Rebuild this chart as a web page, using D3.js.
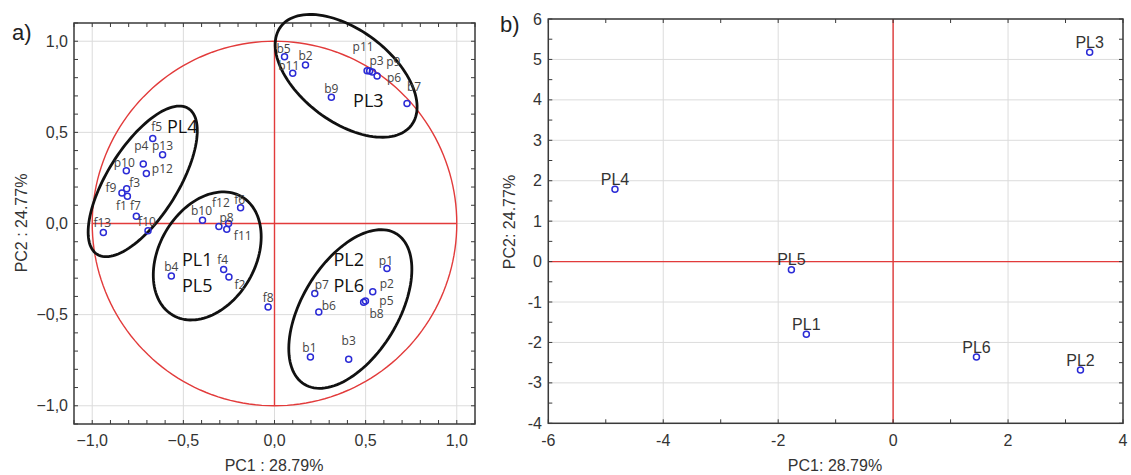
<!DOCTYPE html>
<html>
<head>
<meta charset="UTF-8">
<title>PCA loadings and scores</title>
<script src="https://cdn.jsdelivr.net/npm/d3@7"></script>
<style>
  body { margin: 0; padding: 0; background: #fff; }
  text { font-family: "Liberation Sans", Arial, sans-serif; }
</style>
</head>
<body>
<script>
// ---- panel a) variable loadings ----
var varNames = ["b5","b2","b11","p11","p3","p9","p6","b7","b9",
                "f5","p13","p4","p10","p12","f9","f3","f1","f7","f13","f10",
                "b10","f12","p8","f11","f6","b4","f4","f2","f8",
                "p1","p2","p5","b8","p7","b6","b1","b3"];
var pc1Load = [0.055,0.17,0.10,0.508,0.522,0.537,0.563,0.727,0.312,
               -0.668,-0.614,-0.720,-0.813,-0.703,-0.837,-0.811,-0.807,-0.758,-0.939,-0.694,
               -0.395,-0.305,-0.252,-0.262,-0.186,-0.566,-0.279,-0.250,-0.035,
               0.617,0.539,0.499,0.489,0.221,0.243,0.197,0.407];
var pc2Load = [0.915,0.87,0.825,0.838,0.836,0.831,0.809,0.659,0.692,
               0.467,0.377,0.327,0.289,0.274,0.168,0.190,0.150,0.040,-0.049,-0.040,
               0.018,-0.016,0.0,-0.031,0.086,-0.288,-0.253,-0.293,-0.458,
               -0.247,-0.375,-0.425,-0.432,-0.384,-0.485,-0.732,-0.745];
// label nudges (px, label centre relative to the point)
var labelDx = [-1,0,-4,-4,7,21,17,7,0,
               4,0,-2,-2,16,-11,8,-6,-1,-1,-1,
               -1,2,-2,16,-1,0,-1,11,0,
               -1,14,21,13,7,10,-1,0];
var labelDy = [-8,-9,-7,-24,-10,-10,2,-17,-9,
               -12,-9,-18,-8,-5,-5,-6,10,-10,-10,-9,
               -9,-24,-6,7,-8,-9,-10,8,-9,
               -8,-8,0,12,-9,-6,-9,-18];

// group ellipses (data units)
var groupCx = [0.393,-0.723,-0.369,0.416];
var groupCy = [0.810,0.231,-0.178,-0.469];
var groupRa = [0.449,0.472,0.376,0.484];
var groupRb = [0.252,0.194,0.264,0.263];
var groupAngle = [-37,58,60,58.6];
var groupText = ["PL3","PL4","PL1","PL5","PL2","PL6"];
var groupTextX = [0.515,-0.506,-0.424,-0.424,0.407,0.407];
var groupTextY = [0.676,0.530,-0.201,-0.339,-0.201,-0.339];

var loadTicks = [-1.0,-0.5,0.0,0.5,1.0];

// ---- panel b) sample scores ----
var sampleNames = ["PL3","PL4","PL5","PL1","PL6","PL2"];
var pc1Score = [3.42,-4.84,-1.77,-1.51,1.45,3.26];
var pc2Score = [5.18,1.79,-0.20,-1.80,-2.36,-2.68];
var scoreXTicks = [-6,-4,-2,0,2,4];
var scoreYTicks = [6,5,4,3,2,1,0,-1,-2,-3,-4];

var W = 1131, H = 475;
var svg = d3.select("body").append("svg").attr("width", W).attr("height", H);

var red = "#e23b3b", blue = "#2b2bd6", frameCol = "#3a3a3a", gridCol = "#dcdcdc";
var comma = function(v) { return d3.format(".1f")(v).replace(".", ","); };

function frame(g, x, y, xMinor, yMinor) {
  var x0 = x.range()[0], x1 = x.range()[1], y0 = y.range()[0], y1 = y.range()[1];
  // small inward ticks on all four sides
  xMinor.forEach(function(v) {
    g.append("line").attr("x1", x(v)).attr("x2", x(v)).attr("y1", y0).attr("y2", y0 - 4)
      .attr("stroke", frameCol);
    g.append("line").attr("x1", x(v)).attr("x2", x(v)).attr("y1", y1).attr("y2", y1 + 4)
      .attr("stroke", frameCol);
  });
  yMinor.forEach(function(v) {
    g.append("line").attr("y1", y(v)).attr("y2", y(v)).attr("x1", x0).attr("x2", x0 + 4)
      .attr("stroke", frameCol);
    g.append("line").attr("y1", y(v)).attr("y2", y(v)).attr("x1", x1).attr("x2", x1 - 4)
      .attr("stroke", frameCol);
  });
  g.append("rect").attr("x", x0).attr("y", y1).attr("width", x1 - x0).attr("height", y0 - y1)
    .attr("fill", "none").attr("stroke", frameCol).attr("stroke-width", 1.5);
}

// =============== panel a ===============
var xa = d3.scaleLinear().domain([-1.1, 1.1]).range([74, 475]);
var ya = d3.scaleLinear().domain([-1.1, 1.1]).range([424, 23]);
var ga = svg.append("g");

ga.selectAll(".gx").data(loadTicks).enter().append("line")
  .attr("x1", d => xa(d)).attr("x2", d => xa(d)).attr("y1", ya.range()[0]).attr("y2", ya.range()[1])
  .attr("stroke", gridCol);
ga.selectAll(".gy").data(loadTicks).enter().append("line")
  .attr("y1", d => ya(d)).attr("y2", d => ya(d)).attr("x1", xa.range()[0]).attr("x2", xa.range()[1])
  .attr("stroke", gridCol);

// unit circle + axes in red
var circ = d3.range(0, 361, 2).map(function(t) {
  var r = t * Math.PI / 180; return [xa(Math.cos(r)), ya(Math.sin(r))];
});
ga.append("path").attr("d", d3.line()(circ)).attr("fill", "none").attr("stroke", red).attr("stroke-width", 1.4);
ga.append("line").attr("x1", xa(0)).attr("x2", xa(0)).attr("y1", ya(1)).attr("y2", ya(-1))
  .attr("stroke", red).attr("stroke-width", 1.4);
ga.append("line").attr("x1", xa(-1)).attr("x2", xa(1)).attr("y1", ya(0)).attr("y2", ya(0))
  .attr("stroke", red).attr("stroke-width", 1.4);

var minorA = d3.range(-11, 12).map(v => v / 10);
frame(ga, xa, ya, minorA, minorA);

ga.selectAll(".xt").data(loadTicks).enter().append("text")
  .attr("x", d => xa(d)).attr("y", 446).attr("text-anchor", "middle")
  .attr("font-size", 16).attr("fill", "#333").text(comma);
ga.selectAll(".yt").data(loadTicks).enter().append("text")
  .attr("x", 68).attr("y", d => ya(d) + 5.5).attr("text-anchor", "end")
  .attr("font-size", 16).attr("fill", "#333").text(comma);

ga.append("text").attr("x", 274).attr("y", 471).attr("text-anchor", "middle")
  .attr("font-size", 16).attr("fill", "#333").text("PC1 : 28.79%");
ga.append("text").attr("transform", "translate(27,223) rotate(-90)").attr("text-anchor", "middle")
  .attr("font-size", 16).attr("fill", "#333").text("PC2 : 24.77%");
ga.append("text").attr("x", 12).attr("y", 40).attr("font-size", 22).attr("fill", "#222").text("a)");

// group ellipses
groupCx.forEach(function(cx, i) {
  var a = groupAngle[i] * Math.PI / 180;
  var pts = d3.range(0, 361, 3).map(function(t) {
    var r = t * Math.PI / 180;
    var ex = groupRa[i] * Math.cos(r), ey = groupRb[i] * Math.sin(r);
    return [xa(cx + ex * Math.cos(a) - ey * Math.sin(a)),
            ya(groupCy[i] + ex * Math.sin(a) + ey * Math.cos(a))];
  });
  ga.append("path").attr("d", d3.line()(pts)).attr("fill", "none")
    .attr("stroke", "#111").attr("stroke-width", 2.8);
});

ga.selectAll(".pt").data(varNames).enter().append("circle")
  .attr("cx", (d, i) => xa(pc1Load[i])).attr("cy", (d, i) => ya(pc2Load[i]))
  .attr("r", 3).attr("fill", "none").attr("stroke", blue).attr("stroke-width", 1.5);
ga.selectAll(".pl").data(varNames).enter().append("text")
  .attr("x", (d, i) => xa(pc1Load[i]) + labelDx[i])
  .attr("y", (d, i) => ya(pc2Load[i]) + labelDy[i])
  .attr("dy", "0.35em").attr("text-anchor", "middle")
  .style("font-family", "'Open Sans', sans-serif").attr("font-size", 12).attr("fill", "#444")
  .text(d => d);

ga.selectAll(".gt").data(groupText).enter().append("text")
  .attr("x", (d, i) => xa(groupTextX[i])).attr("y", (d, i) => ya(groupTextY[i]))
  .attr("dy", "0.35em").attr("text-anchor", "middle")
  .style("font-family", "'Open Sans', sans-serif").attr("font-size", 18).attr("fill", "#111")
  .text(d => d);

// =============== panel b ===============
var xb = d3.scaleLinear().domain([-6, 4]).range([548.3, 1123]);
var yb = d3.scaleLinear().domain([-4, 6]).range([423.3, 19]);
var gb = svg.append("g");

gb.selectAll(".gx").data(scoreXTicks).enter().append("line")
  .attr("x1", d => xb(d)).attr("x2", d => xb(d)).attr("y1", yb.range()[0]).attr("y2", yb.range()[1])
  .attr("stroke", gridCol);
gb.selectAll(".gy").data(scoreYTicks).enter().append("line")
  .attr("y1", d => yb(d)).attr("y2", d => yb(d)).attr("x1", xb.range()[0]).attr("x2", xb.range()[1])
  .attr("stroke", gridCol);
gb.append("line").attr("x1", xb(0)).attr("x2", xb(0)).attr("y1", yb(6)).attr("y2", yb(-4))
  .attr("stroke", red).attr("stroke-width", 1.4);
gb.append("line").attr("x1", xb(-6)).attr("x2", xb(4)).attr("y1", yb(0)).attr("y2", yb(0))
  .attr("stroke", red).attr("stroke-width", 1.4);

frame(gb, xb, yb, d3.range(-6, 5), d3.range(-8, 13).map(v => v / 2));

gb.selectAll(".xt").data(scoreXTicks).enter().append("text")
  .attr("x", d => xb(d)).attr("y", 446).attr("text-anchor", "middle")
  .attr("font-size", 16).attr("fill", "#333").text(d => d);
gb.selectAll(".yt").data(scoreYTicks).enter().append("text")
  .attr("x", 542).attr("y", d => yb(d) + 5.5).attr("text-anchor", "end")
  .attr("font-size", 16).attr("fill", "#333").text(d => d);

gb.append("text").attr("x", 835).attr("y", 471).attr("text-anchor", "middle")
  .attr("font-size", 16).attr("fill", "#333").text("PC1: 28.79%");
gb.append("text").attr("transform", "translate(515,222) rotate(-90)").attr("text-anchor", "middle")
  .attr("font-size", 16).attr("fill", "#333").text("PC2: 24.77%");
gb.append("text").attr("x", 500).attr("y", 32).attr("font-size", 22).attr("fill", "#222").text("b)");

gb.selectAll(".pt").data(sampleNames).enter().append("circle")
  .attr("cx", (d, i) => xb(pc1Score[i])).attr("cy", (d, i) => yb(pc2Score[i]))
  .attr("r", 3).attr("fill", "none").attr("stroke", blue).attr("stroke-width", 1.5);
gb.selectAll(".pl").data(sampleNames).enter().append("text")
  .attr("x", (d, i) => xb(pc1Score[i])).attr("y", (d, i) => yb(pc2Score[i]) - 10)
  .attr("dy", "0.35em").attr("text-anchor", "middle")
  .attr("font-size", 16).attr("fill", "#333").text(d => d);
</script>
</body>
</html>
